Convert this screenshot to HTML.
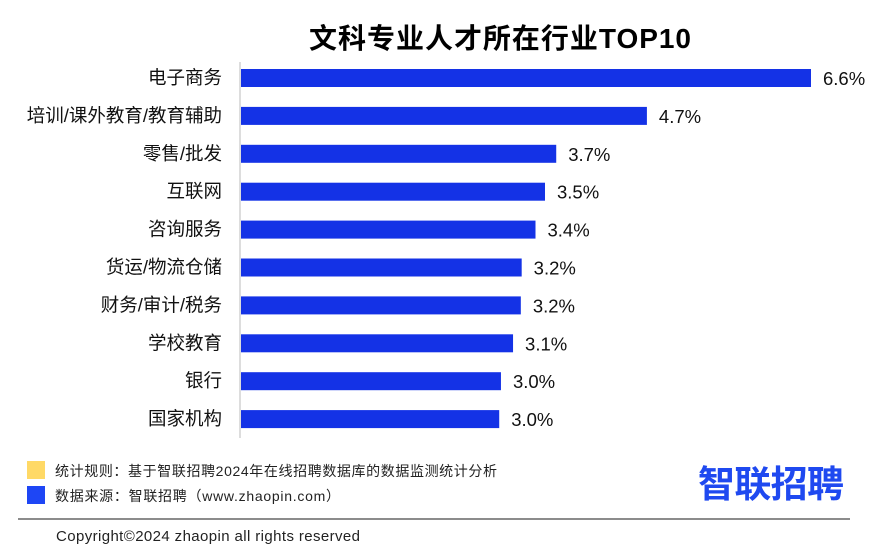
<!DOCTYPE html>
<html><head><meta charset="utf-8"><style>
body{margin:0;background:#fff;}
svg text{font-family:"Liberation Sans","Noto Sans CJK SC",sans-serif;}
</style></head><body>
<svg id="c" width="872" height="550" xmlns="http://www.w3.org/2000/svg">
<text x="500" y="48" text-anchor="middle" font-size="28" font-weight="bold" fill="#000" textLength="382">文科专业人才所在行业TOP10</text>
<line x1="240" y1="62" x2="240" y2="438" stroke="#bbb" stroke-width="1"/>
<g id="bars"></g>
<rect x="27" y="461" width="18" height="18" fill="#ffd966"/>
<text x="55" y="476" font-size="14" fill="#222" textLength="442">统计规则：基于智联招聘2024年在线招聘数据库的数据监测统计分析</text>
<rect x="27" y="486" width="18" height="18" fill="#1e46f5"/>
<text x="55" y="501" font-size="14" fill="#222" textLength="285">数据来源：智联招聘（www.zhaopin.com）</text>
<text x="698" y="497" font-size="37" font-weight="bold" fill="#1f49f0" textLength="146">智联招聘</text>
<line x1="18" y1="519" x2="850" y2="519" stroke="#666" stroke-width="1.5"/>
<text x="56" y="541" font-size="15" fill="#222" textLength="304">Copyright©2024 zhaopin all rights reserved</text>
</svg>
<script>
const categories=["电子商务","培训/课外教育/教育辅助","零售/批发","互联网","咨询服务","货运/物流仓储","财务/审计/税务","学校教育","银行","国家机构"];
const values=[6.6,4.7,3.65,3.52,3.41,3.25,3.24,3.15,3.01,2.99];
const labels=["6.6%","4.7%","3.7%","3.5%","3.4%","3.2%","3.2%","3.1%","3.0%","3.0%"];
const x0=241,scale=570/6.6;
const xs=v=>v*scale;
const ys=i=>78+i*37.9;
const g=document.getElementById('bars');
const ns="http://www.w3.org/2000/svg";
categories.forEach((c,i)=>{
 const r=document.createElementNS(ns,'rect');
 r.setAttribute('x',x0);r.setAttribute('y',ys(i)-9);
 r.setAttribute('width',xs(values[i]));r.setAttribute('height',18);
 r.setAttribute('fill','#1432e6');
 
 
 g.appendChild(r);
 const t=document.createElementNS(ns,'text');
 t.setAttribute('x',222);t.setAttribute('y',ys(i)+6);
 t.setAttribute('text-anchor','end');t.setAttribute('font-size','18.5');t.setAttribute('fill','#111');
 t.textContent=c;
 
 
 g.appendChild(t);
 const v=document.createElementNS(ns,'text');
 v.setAttribute('x',x0+xs(values[i])+12);v.setAttribute('y',ys(i)+7);
 v.setAttribute('font-size','18.5');v.setAttribute('fill','#111');
 v.textContent=labels[i];
 
 
 g.appendChild(v);
});
</script>
</body></html>
